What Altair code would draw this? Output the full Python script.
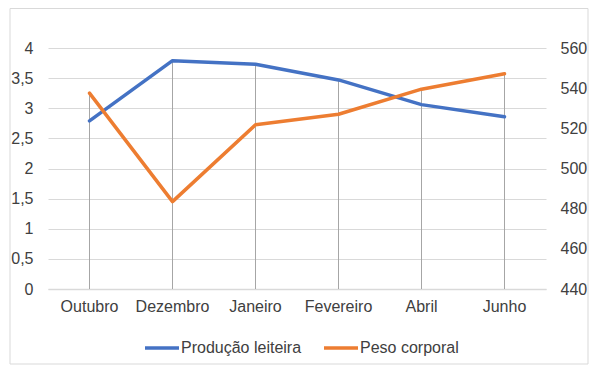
import altair as alt
import pandas as pd

months = ["Outubro", "Dezembro", "Janeiro", "Fevereiro", "Abril", "Junho"]
producao = [2.79, 3.79, 3.73, 3.47, 3.06, 2.86]
peso = [537.5, 483.5, 521.8, 527.0, 539.5, 547.2]
series = ["Produção leiteira", "Peso corporal"]
colors = ["#4472C4", "#ED7D31"]
left_ticks = [0, 0.5, 1, 1.5, 2, 2.5, 3, 3.5, 4]
right_ticks = [440, 460, 480, 500, 520, 540, 560]

df_a = pd.DataFrame({"mes": months, "valor": producao, "serie": series[0]})
df_b = pd.DataFrame({"mes": months, "valor": peso, "serie": series[1]})

FONT = "Liberation Sans"
TXT = "#404040"
FS = 16

x_enc = alt.X("mes:N", sort=months, title=None,
              axis=alt.Axis(labelAngle=0, ticks=False, domain=True, domainColor="#d9d9d9",
                            domainWidth=1.5, labelPadding=9, labelFontSize=FS,
                            labelColor=TXT, labelFont=FONT, grid=False))

left_scale = alt.Scale(domain=[0, 4], nice=False, zero=False)
right_scale = alt.Scale(domain=[440, 560], nice=False, zero=False)

hidden_left = alt.Axis(orient="left", labels=False, ticks=False, domain=False, grid=False)
hidden_right = alt.Axis(orient="right", labels=False, ticks=False, domain=False, grid=False)

border = alt.Chart(pd.DataFrame({"k": [0]})).mark_rect(
    fillOpacity=0, stroke="#d9d9d9", strokeWidth=1
).encode(x=alt.value(-38), x2=alt.value(540), y=alt.value(-39.5), y2=alt.value(316))

rule_a = alt.Chart(df_a).mark_rule(color="#a6a6a6", strokeWidth=1).encode(
    x=x_enc, y=alt.Y("valor:Q", scale=left_scale, title=None, axis=hidden_left),
    y2=alt.Y2(datum=0))
rule_b = alt.Chart(df_b).mark_rule(color="#a6a6a6", strokeWidth=1).encode(
    x=x_enc, y=alt.Y("valor:Q", scale=right_scale, title=None, axis=hidden_right),
    y2=alt.Y2(datum=440))

color_enc = alt.Color("serie:N", scale=alt.Scale(domain=series, range=colors),
                      legend=alt.Legend(title=None, orient="none", legendX=95, legendY=281,
                                        direction="horizontal", symbolType="stroke",
                                        symbolSize=1156, symbolStrokeWidth=3.5,
                                        labelFontSize=FS, labelFont=FONT, labelColor=TXT,
                                        labelOffset=0, columnPadding=15))

line_a = alt.Chart(df_a).mark_line(strokeWidth=3.5, strokeCap="round", strokeJoin="round").encode(
    x=x_enc,
    y=alt.Y("valor:Q", scale=left_scale, title=None,
            axis=alt.Axis(orient="left", values=left_ticks, grid=True, gridColor="#d9d9d9",
                          ticks=False, domain=False, labelPadding=15, labelFontSize=FS,
                          labelFont=FONT, labelColor=TXT,
                          labelExpr="replace(toString(datum.value), '.', ',')")),
    color=color_enc)
line_b = alt.Chart(df_b).mark_line(strokeWidth=3.5, strokeCap="round", strokeJoin="round").encode(
    x=x_enc,
    y=alt.Y("valor:Q", scale=right_scale, title=None,
            axis=alt.Axis(orient="right", values=right_ticks, grid=False, ticks=False,
                          domain=False, labelPadding=14, labelFontSize=FS,
                          labelFont=FONT, labelColor=TXT)),
    color=color_enc)

chart = alt.layer(border, rule_a, rule_b, line_a, line_b).resolve_scale(
    y="independent"
).properties(
    width=498, height=241,
    autosize=alt.AutoSizeParams(type="none"),
    padding={"left": 40, "top": 40, "right": 44, "bottom": 80},
    background="white",
).configure_view(stroke=None)

chart.save("out.html", embed_options={"renderer": "svg", "actions": False})
